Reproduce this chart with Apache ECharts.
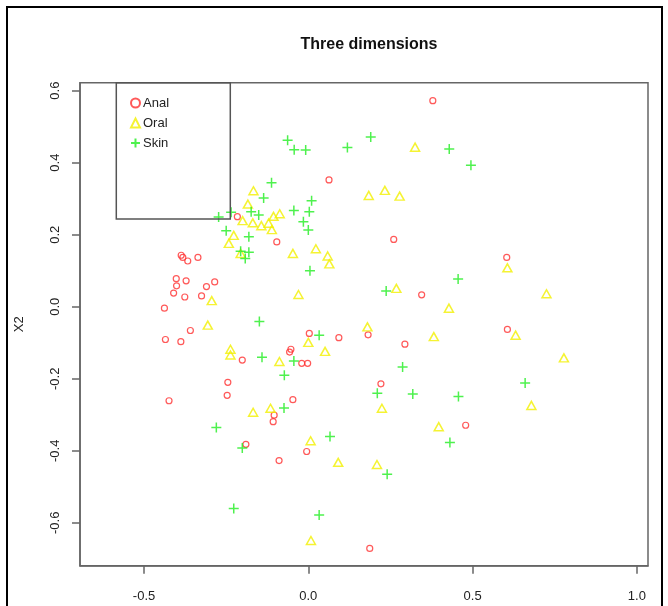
<!DOCTYPE html>
<html>
<head>
<meta charset="utf-8">
<script src="https://cdn.jsdelivr.net/npm/echarts@6/dist/echarts.min.js"></script>
<style>
html,body{margin:0;padding:0;background:#fff;}
#chart{width:668px;height:606px;}
</style>
</head>
<body>
<div id="chart"></div>
<script>
const title = "Three dimensions";
const seriesNames = ["Anal", "Oral", "Skin"];
const yAxisTitle = "X2";
const xTicks = [-0.5, 0.0, 0.5, 1.0];
const yTicks = [-0.6, -0.4, -0.2, 0.0, 0.2, 0.4, 0.6];

const analX = [0.379, 0.063, -0.216, -0.096, 0.260, -0.387, -0.382, -0.367, -0.336, -0.402, -0.372, -0.401, -0.410, -0.376, -0.310, -0.285, -0.325, -0.438, -0.359, -0.435, -0.388, -0.201, -0.245, -0.247, -0.424, -0.104, -0.107, -0.190, -0.089, -0.005, -0.047, 0.221, 0.479, 0.187, 0.003, 0.093, 0.182, 0.345, 0.604, 0.606, 0.294, -0.053, -0.057, -0.020, -0.002];
const analY = [0.572, 0.352, 0.250, 0.180, 0.187, 0.143, 0.137, 0.127, 0.137, 0.078, 0.072, 0.058, 0.038, 0.027, 0.056, 0.069, 0.030, -0.004, -0.066, -0.091, -0.097, -0.148, -0.210, -0.246, -0.261, -0.301, -0.319, -0.382, -0.427, -0.402, -0.258, -0.214, -0.329, -0.671, -0.074, -0.086, -0.078, 0.033, 0.137, -0.063, -0.104, -0.118, -0.126, -0.157, -0.157];

const oralX = [-0.167, -0.184, -0.200, -0.169, -0.143, -0.121, -0.106, -0.111, -0.227, -0.087, -0.242, -0.206, 0.325, 0.184, 0.233, 0.278, -0.047, 0.023, 0.059, 0.064, -0.030, 0.268, 0.428, 0.180, 0.382, 0.000, 0.051, -0.088, -0.294, -0.306, -0.237, -0.237, 0.606, 0.725, 0.631, 0.778, -0.168, -0.115, 0.224, 0.397, 0.007, 0.091, 0.209, 0.008, 0.679];
const oralY = [0.322, 0.285, 0.239, 0.233, 0.225, 0.232, 0.251, 0.214, 0.198, 0.258, 0.176, 0.148, 0.443, 0.309, 0.323, 0.307, 0.148, 0.161, 0.141, 0.119, 0.034, 0.051, -0.004, -0.056, -0.083, -0.099, -0.124, -0.152, 0.017, -0.051, -0.118, -0.134, 0.108, 0.036, -0.079, -0.142, -0.293, -0.282, -0.282, -0.333, -0.372, -0.432, -0.438, -0.649, -0.274];

const skinX = [-0.112, -0.136, -0.174, -0.151, -0.235, -0.273, -0.250, -0.181, -0.063, -0.043, -0.008, 0.119, 0.190, 0.429, 0.495, 0.010, -0.044, 0.003, -0.015, 0.000, -0.206, -0.181, -0.192, -0.149, -0.141, 0.005, 0.237, 0.456, 0.033, -0.044, -0.073, 0.287, 0.210, 0.318, 0.457, -0.074, -0.280, -0.201, -0.227, 0.431, 0.066, 0.240, 0.033, 0.660];
const skinY = [0.344, 0.302, 0.264, 0.255, 0.262, 0.249, 0.211, 0.194, 0.462, 0.436, 0.435, 0.442, 0.471, 0.438, 0.393, 0.294, 0.267, 0.264, 0.236, 0.213, 0.154, 0.151, 0.134, -0.041, -0.140, 0.100, 0.044, 0.077, -0.079, -0.151, -0.190, -0.167, -0.240, -0.242, -0.249, -0.281, -0.335, -0.392, -0.560, -0.377, -0.360, -0.465, -0.578, -0.212];

function zip(xs, ys) { return xs.map((x, i) => [x, ys[i]]); }

const chart = echarts.init(document.getElementById('chart'), null, {renderer: 'canvas'});
const font = 'Liberation Sans, Arial, sans-serif';
const plusPath = 'path://M5,0 L5,10 M0,5 L10,5';

chart.setOption({
  backgroundColor: '#ffffff',
  animation: false,
  title: {
    text: title,
    left: 364, textAlign: 'center',
    top: 32,
    textStyle: {fontFamily: font, fontSize: 16, fontWeight: 'bold', color: '#111'}
  },
  legend: {
    orient: 'vertical',
    left: 125, top: 91,
    itemWidth: 9, itemHeight: 9, itemGap: 6,
    data: seriesNames,
    textStyle: {fontFamily: font, fontSize: 13, color: '#222', lineHeight: 14, padding: [0,0,0,-2]}
  },
  grid: {left: 80, right: 20, top: 82.7, bottom: 40.3, show: true, borderColor: '#666', borderWidth: 1.5, containLabel: false},
  xAxis: {
    type: 'value', min: -0.695, max: 1.034,
    splitLine: {show: false},
    axisLine: {show: true, onZero: false, lineStyle: {color: '#666', width: 1.5}},
    axisTick: {show: true, length: 8, lineStyle: {color: '#666', width: 1.5}, customValues: xTicks},
    axisLabel: {customValues: xTicks, margin: 24, fontFamily: font, fontSize: 13, color: '#222', formatter: v => v.toFixed(1)}
  },
  yAxis: {
    type: 'value', min: -0.719, max: 0.622,
    name: yAxisTitle, nameLocation: 'middle', nameGap: 54, nameRotate: 90,
    nameTextStyle: {fontFamily: font, fontSize: 13, color: '#222'},
    splitLine: {show: false},
    axisLine: {show: true, onZero: false, lineStyle: {color: '#666', width: 1.5}},
    axisTick: {show: true, length: 8, lineStyle: {color: '#666', width: 1.5}, customValues: yTicks},
    axisLabel: {customValues: yTicks, rotate: 90, margin: 18, fontFamily: font, fontSize: 13, color: '#222', formatter: v => (Math.abs(v) < 1e-9 ? 0 : v).toFixed(1)}
  },
  series: [
    {
      name: seriesNames[0], type: 'scatter', data: zip(analX, analY),
      symbol: 'circle', symbolSize: 6,
      itemStyle: {color: 'rgba(0,0,0,0)', borderColor: '#ff3030', borderWidth: 1.2}
    },
    {
      name: seriesNames[1], type: 'scatter', data: zip(oralX, oralY),
      symbol: 'triangle', symbolSize: [9, 8],
      itemStyle: {color: 'rgba(0,0,0,0)', borderColor: '#f2f000', borderWidth: 1.5}
    },
    {
      name: seriesNames[2], type: 'scatter', data: zip(skinX, skinY),
      symbol: plusPath, symbolSize: 10,
      itemStyle: {color: 'rgba(0,0,0,0)', borderColor: '#22ee22', borderWidth: 1.5}
    }
  ],
  graphic: [
    {type: 'rect', shape: {x: 116.3, y: 82.7, width: 114, height: 136.3}, style: {fill: 'none', stroke: '#555', lineWidth: 1.5}, z: 10},
    {type: 'polyline', shape: {points: [[7, 606], [7, 7], [662, 7], [662, 606]]}, style: {fill: 'none', stroke: '#000', lineWidth: 2}, z: 10}
  ]
});
</script>
</body>
</html>
